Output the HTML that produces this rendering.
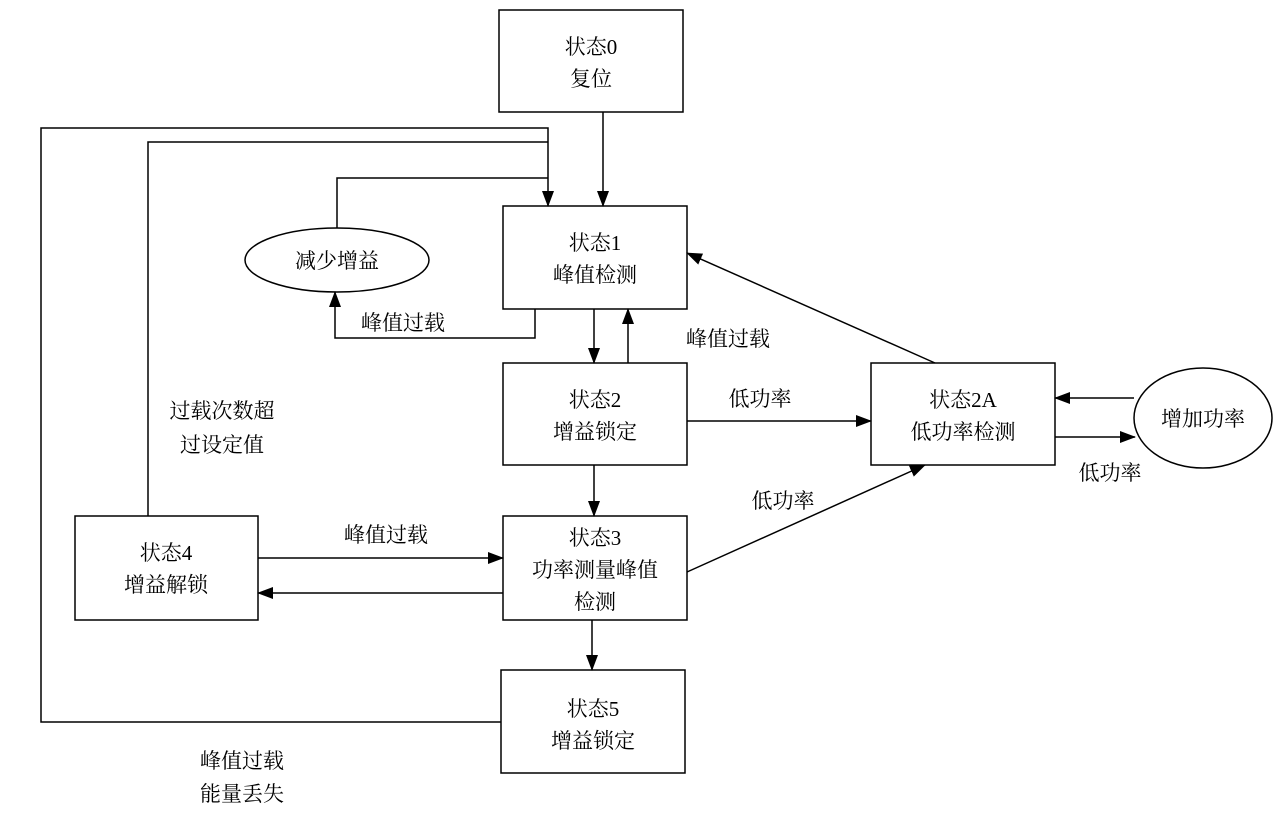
<!DOCTYPE html>
<html><head><meta charset="utf-8"><style>
body{margin:0;background:#fff}
svg text{font-family:"Liberation Serif","Noto Serif CJK SC",serif;font-size:21px;fill:#000;text-anchor:middle}
</style></head><body>
<svg width="1278" height="815" viewBox="0 0 1278 815" xmlns="http://www.w3.org/2000/svg">
<defs><marker id="a" markerWidth="16" markerHeight="12" refX="15" refY="6" orient="auto" markerUnits="userSpaceOnUse"><path d="M0,0 L16,6 L0,12 z" fill="#000"/></marker></defs>
<g fill="none" stroke="#000" stroke-width="1.5">
<rect x="499" y="10" width="184" height="102"/>
<rect x="503" y="206" width="184" height="103"/>
<rect x="503" y="363" width="184" height="102"/>
<rect x="871" y="363" width="184" height="102"/>
<rect x="503" y="516" width="184" height="104"/>
<rect x="75" y="516" width="183" height="104"/>
<rect x="501" y="670" width="184" height="103"/>
<ellipse cx="337" cy="260" rx="92" ry="32"/>
<ellipse cx="1203" cy="418" rx="69" ry="50"/>
<line x1="603" y1="112" x2="603" y2="206" marker-end="url(#a)"/>
<polyline points="501,722 41,722 41,128 548,128 548,206" marker-end="url(#a)"/>
<polyline points="148,516 148,142 548,142"/>
<polyline points="337,228 337,178 548,178"/>
<polyline points="535,309 535,338 335,338 335,292" marker-end="url(#a)"/>
<line x1="594" y1="309" x2="594" y2="363" marker-end="url(#a)"/>
<line x1="628" y1="363" x2="628" y2="309" marker-end="url(#a)"/>
<line x1="687" y1="421" x2="871" y2="421" marker-end="url(#a)"/>
<line x1="935" y1="363" x2="687" y2="253" marker-end="url(#a)"/>
<line x1="1134" y1="398" x2="1055" y2="398" marker-end="url(#a)"/>
<line x1="1055" y1="437" x2="1135" y2="437" marker-end="url(#a)"/>
<line x1="594" y1="465" x2="594" y2="516" marker-end="url(#a)"/>
<line x1="687" y1="572" x2="925" y2="465" marker-end="url(#a)"/>
<line x1="258" y1="558" x2="503" y2="558" marker-end="url(#a)"/>
<line x1="503" y1="593" x2="258" y2="593" marker-end="url(#a)"/>
<line x1="592" y1="620" x2="592" y2="670" marker-end="url(#a)"/>
</g>
<text x="591" y="54">状态0</text><text x="591" y="86">复位</text>
<text x="595" y="250">状态1</text><text x="595" y="282">峰值检测</text>
<text x="595" y="407">状态2</text><text x="595" y="439">增益锁定</text>
<text x="963" y="407">状态2A</text><text x="963" y="439">低功率检测</text>
<text x="595" y="545">状态3</text><text x="595" y="577">功率测量峰值</text><text x="595" y="609">检测</text>
<text x="166" y="560">状态4</text><text x="166" y="592">增益解锁</text>
<text x="593" y="716">状态5</text><text x="593" y="748">增益锁定</text>
<text x="337" y="268">减少增益</text>
<text x="1203" y="426">增加功率</text>
<text x="403" y="330">峰值过载</text>
<text x="728" y="346">峰值过载</text>
<text x="760" y="406">低功率</text>
<text x="1110" y="480">低功率</text>
<text x="783" y="508">低功率</text>
<text x="386" y="542">峰值过载</text>
<text x="222" y="418">过载次数超</text><text x="222" y="452">过设定值</text>
<text x="242" y="768">峰值过载</text><text x="242" y="801">能量丢失</text>
</svg>
</body></html>
